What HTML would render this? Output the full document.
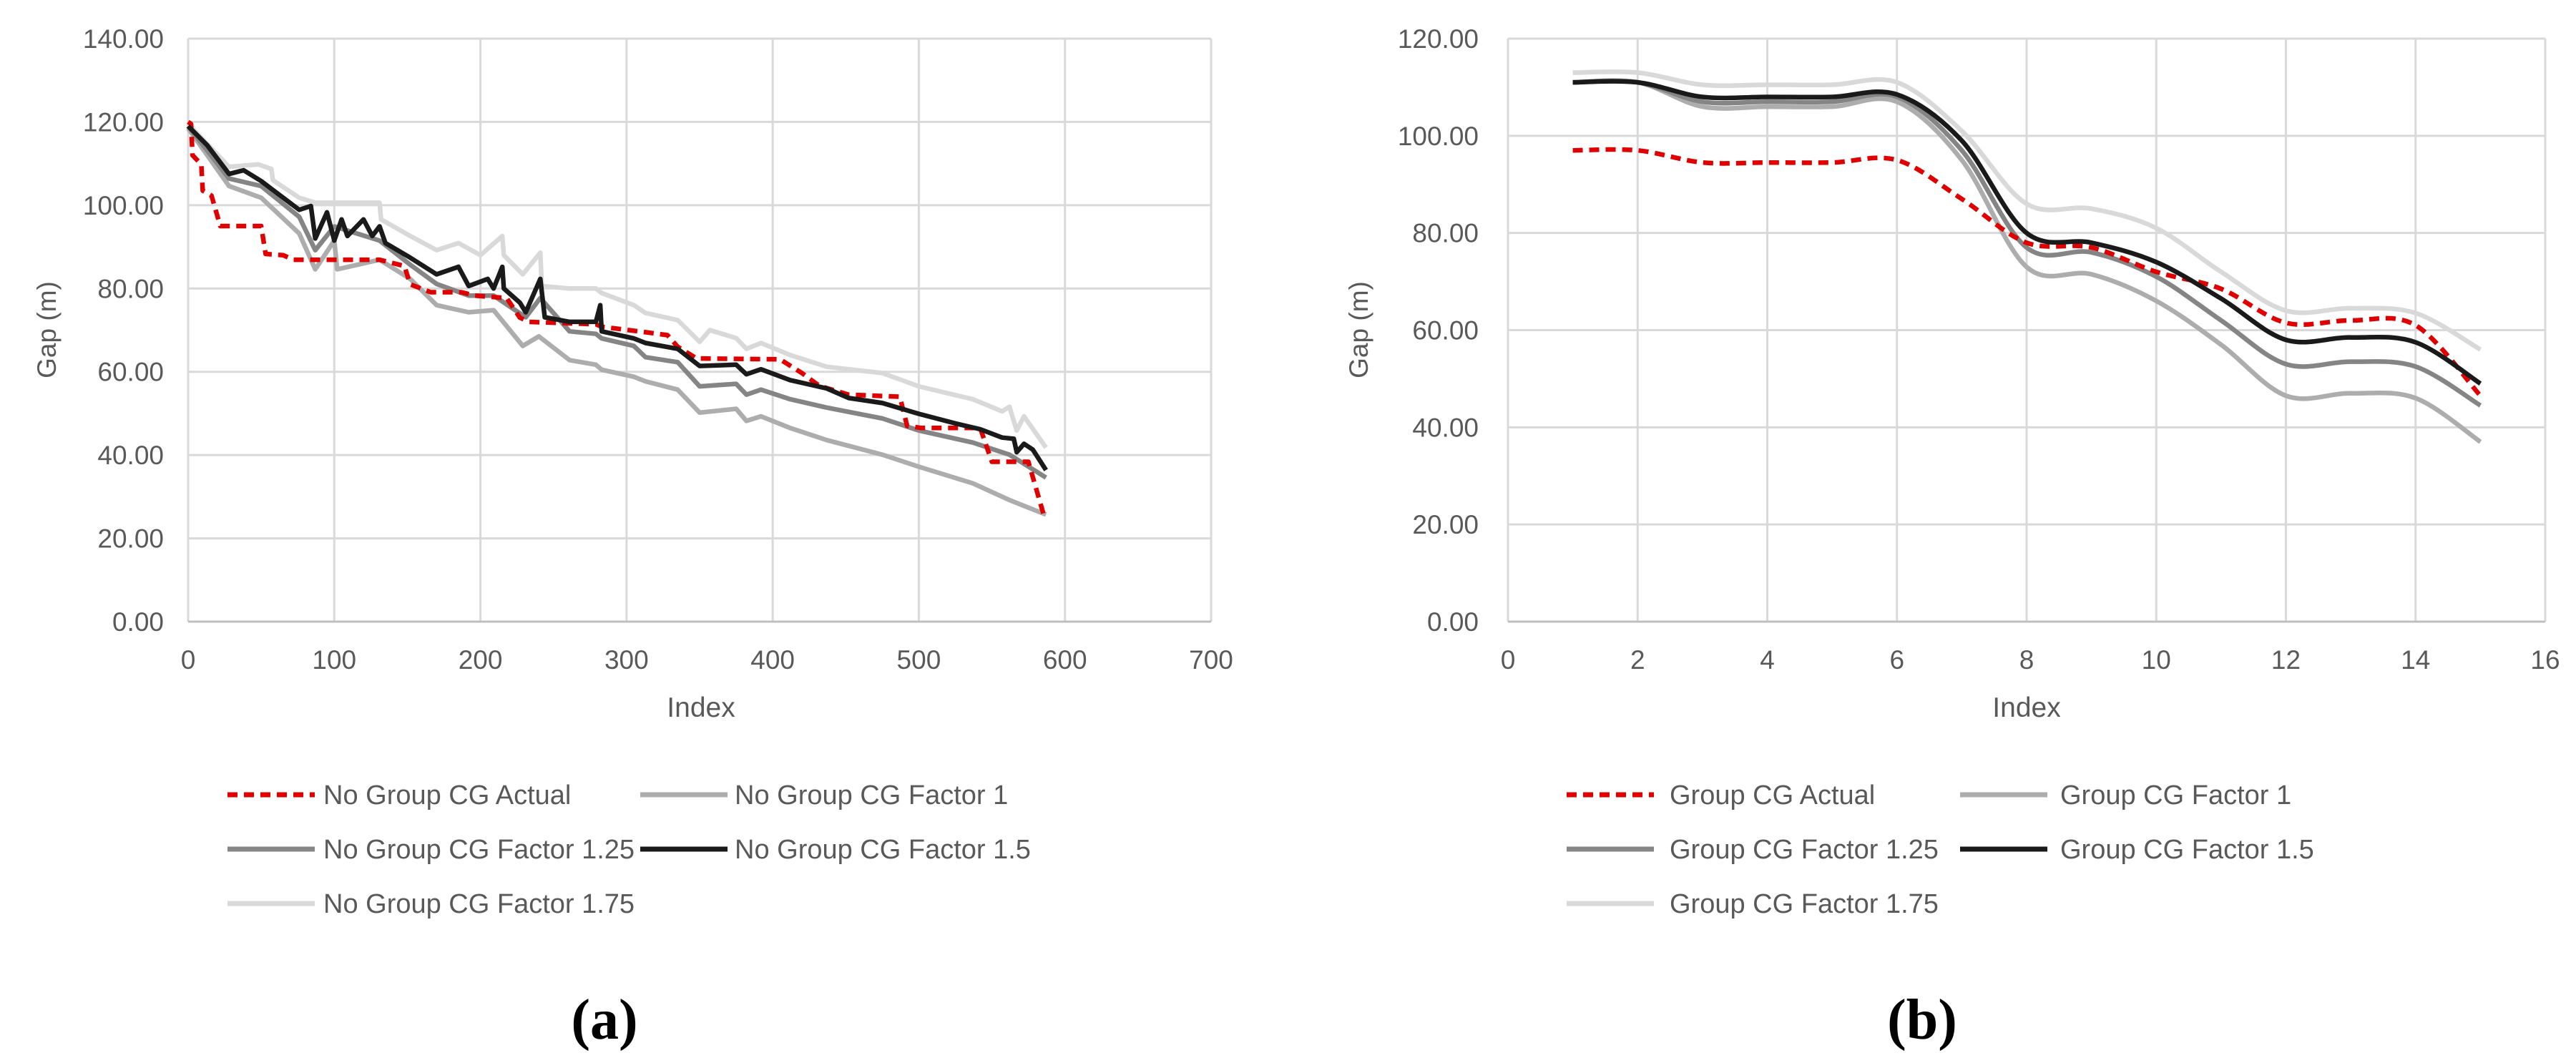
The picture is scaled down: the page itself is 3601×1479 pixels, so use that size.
<!DOCTYPE html>
<html><head><meta charset="utf-8">
<style>
html,body{margin:0;padding:0;background:#fff;}
svg{display:block;}
text{font-family:"Liberation Sans",sans-serif;fill:#595959;}
</style></head>
<body>
<svg id="fig" width="3601" height="1479" viewBox="0 0 3601 1479" xmlns="http://www.w3.org/2000/svg">
<rect width="3601" height="1479" fill="#fff"/>
<g id="chartA"></g>
<g id="chartB"></g>
</svg>
<script>
// ---------- Chart (a) data ----------
const aXTicks = [0,100,200,300,400,500,600,700];
const aYTicks = [0,20,40,60,80,100,120,140];
const aActualX = [0,2,3,9,10,16,22,50,53,65,72,131,148,152,166,187,196,218,227,233,279,283,313,328,335,348,405,420,432,452,487,492,502,542,550,575,586];
const aActualY = [120,119.5,112,109.8,103.5,102.3,95,95,88.3,88,86.9,86.9,85.4,81,79.1,79.1,78.3,77.7,73,72,71.4,70.8,69.5,68.8,66,63.2,63,59.7,56.6,54.5,54,47,46.5,46.5,38.4,38.4,25];
const aF1X = [0,28,50,76,87,100,102,131,152,170,192,209,229,240,261,279,283,305,313,335,350,375,382,392,412,437,475,500,537,562,567,587];
const aF1Y = [118.5,104.6,101.8,93.2,84.6,91.5,84.6,86.9,82.3,76,74.3,74.8,66.2,68.5,62.8,61.7,60.5,58.8,57.7,55.7,50.2,51.1,48.2,49.3,46.5,43.6,40.1,37.2,33.2,29.2,28.5,25.7];
const aF125X = [0,28,50,76,87,100,131,152,170,192,209,231,241,261,279,283,305,313,335,350,375,382,392,412,437,475,500,537,562,587];
const aF125Y = [119,106.4,104.6,97.2,89.2,94.9,91.5,85.7,81.1,78.3,78.3,73.1,77.7,69.7,69.1,68,66.2,63.5,62.3,56.5,57.1,54.5,55.7,53.4,51.4,48.8,45.9,43,40.1,34.6];
const aF15X = [0,13,28,38,50,65,76,84,87,95,100,105,109,120,126,131,135,152,170,185,192,205,209,215,216,227,231,241,244,261,279,282,283,305,313,335,350,375,382,392,412,437,452,475,500,525,542,557,565,567,572,578,587];
const aF15Y = [119,114.4,107.5,108.4,105.8,101.8,98.9,99.8,92,98.3,91.5,96.6,92.6,96.6,92.6,94.9,90.9,87.4,83.4,85.2,80.6,82.3,80,85.2,80,76.6,74.3,82.3,73.1,72,72,76,69.7,68,66.9,65.5,61.4,61.7,59.4,60.6,58,56,53.7,52.5,49.9,47.6,46.2,44.2,43.9,40.7,42.7,41.3,36.4];
const aF175X = [0,28,48,57,58,76,87,131,132,152,170,185,200,215,216,229,241,242,261,279,283,305,313,335,350,357,375,382,392,412,437,475,500,537,557,562,567,572,587];
const aF175Y = [119.5,109.2,109.8,108.7,106,101.8,100.6,100.6,96.6,92.6,89.2,90.9,88,92.6,88,83.4,88.6,80.6,80,80,78.9,76,74.1,72.4,67.2,70,68.1,65.5,66.9,64,61.2,59.7,56.5,53.4,50.5,51.6,45.9,49.3,41.8];

// ---------- Chart (b) data ----------
const bXTicks = [0,2,4,6,8,10,12,14,16];
const bYTicks = [0,20,40,60,80,100,120];
const bIndex = [1,2,3,4,5,6,7,8,9,10,11,12,13,14,15];
const bActual = [97,97,94.5,94.5,94.5,95,87,78,77,72,68.5,61.5,62,61,46.5];
const bF1 = [111,111,106,106,106,107,95,73,71.5,66,57,46.5,47,46,37];
const bF125 = [111,111,107,107,107,108,97,77,76,71,62,53,53.5,52.5,44.5];
const bF15 = [111,111,108,108,108,108.5,99,80,78,74,66.5,58,58.5,57.5,49];
const bF175 = [113,113,110.5,110.5,110.5,111,101,86,85,81,72,64,64.5,63.5,56];

const NS = "http://www.w3.org/2000/svg";
function mk(parent, tag, attrs, txt){
  const e = document.createElementNS(NS, tag);
  for (const k in attrs) e.setAttribute(k, attrs[k]);
  if (txt !== undefined) e.textContent = txt;
  parent.appendChild(e);
  return e;
}
function linePath(xs, ys, sx, sy){
  let d = "";
  for (let i=0;i<xs.length;i++) d += (i?"L":"M") + sx(xs[i]).toFixed(1) + "," + sy(ys[i]).toFixed(1);
  return d;
}
function smoothPath(xs, ys, sx, sy){
  const P = xs.map((x,i)=>[sx(x), sy(ys[i])]);
  let d = "M"+P[0][0].toFixed(1)+","+P[0][1].toFixed(1);
  for (let i=0;i<P.length-1;i++){
    const p0=P[Math.max(0,i-1)], p1=P[i], p2=P[i+1], p3=P[Math.min(P.length-1,i+2)];
    const t=1/6;
    const c1=[p1[0]+(p2[0]-p0[0])*t, p1[1]+(p2[1]-p0[1])*t];
    const c2=[p2[0]-(p3[0]-p1[0])*t, p2[1]-(p3[1]-p1[1])*t];
    d += "C"+c1[0].toFixed(1)+","+c1[1].toFixed(1)+" "+c2[0].toFixed(1)+","+c2[1].toFixed(1)+" "+p2[0].toFixed(1)+","+p2[1].toFixed(1);
  }
  return d;
}

function drawAxes(g, cfg){
  const {x0,x1,y0,y1,xmax,ymax,xTicks,yTicks,labelRight,yLabelX,indexX} = cfg;
  const sx = v => x0 + (v/xmax)*(x1-x0);
  const sy = v => y1 - (v/ymax)*(y1-y0);
  const grid = mk(g,"g",{});
  
  
  yTicks.forEach(v=>{
    const l = mk(grid,"line",{x1:x0,x2:x1,y1:sy(v),y2:sy(v),stroke:"#d9d9d9","stroke-width":3});
    
    
    const t = mk(g,"text",{x:labelRight,y:sy(v)+13,"text-anchor":"end","font-size":37},v.toFixed(2));
    
    
  });
  xTicks.forEach(v=>{
    const l = mk(grid,"line",{x1:sx(v),x2:sx(v),y1:y0,y2:y1,stroke:"#d9d9d9","stroke-width":3});
    
    
    const t = mk(g,"text",{x:sx(v),y:935,"text-anchor":"middle","font-size":37},String(v));
    
    
  });
  const ax = mk(g,"line",{x1:x0,x2:x1,y1:y1,y2:y1,stroke:"#bfbfbf","stroke-width":3});
  
  
  const yt = mk(g,"text",{x:yLabelX,y:461,"text-anchor":"middle","font-size":37,transform:"rotate(-90 "+yLabelX+" 461)"},"Gap (m)");
  
  
  const xt = mk(g,"text",{x:indexX,y:1002,"text-anchor":"middle","font-size":39},"Index");
  
  
  return {sx,sy};
}

function legend(g, items, c1Line, c1Text, c2Line, c2Text){
  const rows=[1111,1187,1263];
  items.forEach((it,i)=>{
    const row = Math.floor(i/2), col=i%2;
    const lx = col? c2Line : c1Line, tx = col? c2Text : c1Text;
    const y = rows[row];
    const e = mk(g,"g",{});
    
    
    const attrs = {x1:lx,x2:lx+122,y1:y,y2:y,stroke:it.c,"stroke-width":7};
    if (it.dash) attrs["stroke-dasharray"]="14,9";
    mk(e,"line",attrs);
    mk(e,"text",{x:tx,y:y+13,"font-size":38},it.n);
  });
}

const styles = [
  {c:"#e00000",w:6,dash:true},
  {c:"#adadad",w:6},
  {c:"#858585",w:6},
  {c:"#1a1a1a",w:6},
  {c:"#d9d9d9",w:6}
];

// Chart A
(function(){
  const g = document.getElementById('chartA');
  const {sx,sy} = drawAxes(g,{x0:263,x1:1693,y0:54,y1:869,xmax:700,ymax:140,xTicks:aXTicks,yTicks:aYTicks,labelRight:229,yLabelX:78,indexX:980});
  const series = [[aF175X,aF175Y,4,"series-factor-1-75"],[aF1X,aF1Y,1,"series-factor-1"],[aF125X,aF125Y,2,"series-factor-1-25"],[aActualX,aActualY,0,"series-actual"],[aF15X,aF15Y,3,"series-factor-1-5"]];
  series.forEach(s=>{
    const st = styles[s[2]];
    const p = mk(g,"path",{d:linePath(s[0],s[1],sx,sy),fill:"none",stroke:st.c,"stroke-width":6.5,"stroke-linejoin":"round"});
    if (st.dash) p.setAttribute("stroke-dasharray","14,9");
    
    
  });
  legend(g,[{n:"No Group CG Actual",c:styles[0].c,dash:true},{n:"No Group CG Factor 1",c:styles[1].c},{n:"No Group CG Factor 1.25",c:styles[2].c},{n:"No Group CG Factor 1.5",c:styles[3].c},{n:"No Group CG Factor 1.75",c:styles[4].c}],318,452,895,1027);
  const lab = mk(g,"text",{x:845,y:1452,"text-anchor":"middle","font-size":80,"font-weight":"bold",style:"font-family:'Liberation Serif',serif;fill:#000"},"(a)");
  
  
})();

// Chart B
(function(){
  const g = document.getElementById('chartB');
  const {sx,sy} = drawAxes(g,{x0:2108,x1:3558,y0:54,y1:869,xmax:16,ymax:120,xTicks:bXTicks,yTicks:bYTicks,labelRight:2067,yLabelX:1912,indexX:2833});
  const series = [[bF175,4,"series-factor-1-75"],[bF1,1,"series-factor-1"],[bF125,2,"series-factor-1-25"],[bActual,0,"series-actual"],[bF15,3,"series-factor-1-5"]];
  series.forEach(s=>{
    const st = styles[s[1]];
    const p = mk(g,"path",{d:smoothPath(bIndex,s[0],sx,sy),fill:"none",stroke:st.c,"stroke-width":6.5});
    if (st.dash) p.setAttribute("stroke-dasharray","14,9");
    
    
  });
  legend(g,[{n:"Group CG Actual",c:styles[0].c,dash:true},{n:"Group CG Factor 1",c:styles[1].c},{n:"Group CG Factor 1.25",c:styles[2].c},{n:"Group CG Factor 1.5",c:styles[3].c},{n:"Group CG Factor 1.75",c:styles[4].c}],2190,2334,2740,2880);
  const lab = mk(g,"text",{x:2687,y:1452,"text-anchor":"middle","font-size":80,"font-weight":"bold",style:"font-family:'Liberation Serif',serif;fill:#000"},"(b)");
  
  
})();
</script>
</body></html>
